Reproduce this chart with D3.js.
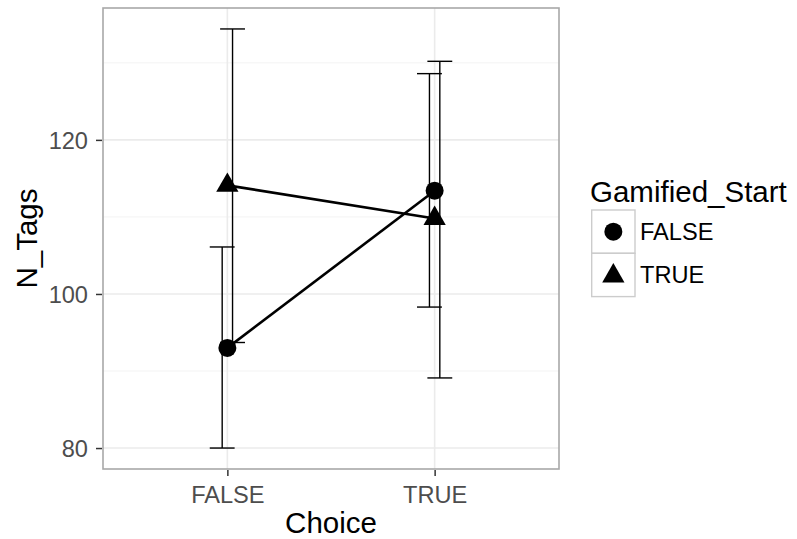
<!DOCTYPE html>
<html>
<head>
<meta charset="utf-8">
<script src="https://d3js.org/d3.v7.min.js"></script>
<style>
    body { margin: 0; background: #fff; }
    text { font-family: "Liberation Sans", Arial, Helvetica, sans-serif; }
</style>
</head>
<body>
<svg id="chart" width="797" height="539"></svg>
<script>
    // chart data
    const choices = ["FALSE", "TRUE"];
    const groups = ["FALSE", "TRUE"];          // Gamified_Start
    const meanFalse = [93.0, 113.4];
    const lowerFalse = [80.0, 98.3];
    const upperFalse = [106.1, 128.6];
    const meanTrue = [114.1, 109.8];
    const lowerTrue = [93.7, 89.1];
    const upperTrue = [134.4, 130.2];
    const yTicks = [80, 100, 120];
    const yMinor = [90, 110, 130];

    const series = [
        { name: groups[0], mean: meanFalse, lo: lowerFalse, hi: upperFalse, shape: "circle", dodge: -1 },
        { name: groups[1], mean: meanTrue, lo: lowerTrue, hi: upperTrue, shape: "triangle", dodge: 1 }
    ];

    const svg = d3.select("#chart");
    const panel = { left: 103, top: 8, right: 559, bottom: 469 };

    const x = d3.scalePoint().domain(choices).range([panel.left, panel.right]).padding(0.6);
    const allVals = lowerFalse.concat(upperFalse, lowerTrue, upperTrue);
    const ext = d3.extent(allVals);
    const pad = (ext[1] - ext[0]) * 0.05;
    const y = d3.scaleLinear().domain([ext[0] - pad, ext[1] + pad]).range([panel.bottom, panel.top]);

    const step = x.step();
    const dodgeOff = 0.025 * step;
    const capHalf = 0.06 * step;

    // grid
    const g = svg.append("g");
    g.selectAll(".minor").data(yMinor).enter().append("line")
        .attr("x1", panel.left).attr("x2", panel.right)
        .attr("y1", d => y(d)).attr("y2", d => y(d))
        .attr("stroke", "#f3f3f3").attr("stroke-width", 1);
    g.selectAll(".major").data(yTicks).enter().append("line")
        .attr("x1", panel.left).attr("x2", panel.right)
        .attr("y1", d => y(d)).attr("y2", d => y(d))
        .attr("stroke", "#ebebeb").attr("stroke-width", 1.6);
    g.selectAll(".majorx").data(choices).enter().append("line")
        .attr("x1", d => x(d)).attr("x2", d => x(d))
        .attr("y1", panel.top).attr("y2", panel.bottom)
        .attr("stroke", "#ebebeb").attr("stroke-width", 1.6);

    // error bars
    series.forEach(s => {
        const eb = svg.append("g");
        choices.forEach((c, i) => {
            const cx = x(c) + s.dodge * dodgeOff;
            eb.append("line").attr("x1", cx).attr("x2", cx)
                .attr("y1", y(s.lo[i])).attr("y2", y(s.hi[i]))
                .attr("stroke", "#000").attr("stroke-width", 1.4);
            [s.lo[i], s.hi[i]].forEach(v => {
                eb.append("line").attr("x1", cx - capHalf).attr("x2", cx + capHalf)
                    .attr("y1", y(v)).attr("y2", y(v))
                    .attr("stroke", "#000").attr("stroke-width", 1.4);
            });
        });
    });

    // lines
    const line = d3.line().x((d, i) => x(choices[i])).y(d => y(d));
    series.forEach(s => {
        svg.append("path").attr("d", line(s.mean))
            .attr("fill", "none").attr("stroke", "#000").attr("stroke-width", 2.6);
    });

    // points
    const symTri = d3.symbol().type(d3.symbolTriangle).size(215);
    function drawShape(sel, shape, cx, cy) {
        if (shape === "circle") {
            sel.append("circle").attr("cx", cx).attr("cy", cy).attr("r", 9).attr("fill", "#000");
        } else {
            sel.append("path").attr("d", symTri()).attr("transform", `translate(${cx},${cy})`).attr("fill", "#000");
        }
    }
    series.forEach(s => {
        const pg = svg.append("g");
        choices.forEach((c, i) => drawShape(pg, s.shape, x(c), y(s.mean[i])));
    });

    // panel border
    svg.append("rect")
        .attr("x", panel.left).attr("y", panel.top)
        .attr("width", panel.right - panel.left).attr("height", panel.bottom - panel.top)
        .attr("fill", "none").attr("stroke", "#a8a8a8").attr("stroke-width", 1.6);

    // y axis
    const yAxis = svg.append("g").attr("transform", `translate(${panel.left - 1},0)`)
        .call(d3.axisLeft(y).tickValues(yTicks).tickSize(6).tickPadding(8));
    yAxis.select(".domain").remove();
    yAxis.selectAll(".tick line").attr("stroke", "#333").attr("stroke-width", 1.5);
    yAxis.selectAll(".tick text").attr("fill", "#4d4d4d").style("font-size", "23.6px")
        .attr("dy", "0.36em");

    // x axis
    const xAxis = svg.append("g").attr("transform", `translate(0,${panel.bottom + 1})`)
        .call(d3.axisBottom(x).tickSize(6).tickPadding(10));
    xAxis.select(".domain").remove();
    xAxis.selectAll(".tick line").attr("stroke", "#333").attr("stroke-width", 1.5);
    xAxis.selectAll(".tick text").attr("fill", "#4d4d4d").style("font-size", "23.6px")
        .attr("dy", "0.71em");

    // axis titles
    svg.append("text").attr("x", (panel.left + panel.right) / 2).attr("y", 533)
        .attr("text-anchor", "middle").style("font-size", "29.5px").attr("fill", "#000").text("Choice");
    svg.append("text").attr("transform", `translate(37,${(panel.top + panel.bottom) / 2}) rotate(-90)`)
        .attr("text-anchor", "middle").style("font-size", "29.5px").attr("fill", "#000").text("N_Tags");

    // legend
    const lg = svg.append("g");
    lg.append("text").attr("x", 590).attr("y", 201.5).style("font-size", "29.5px")
        .attr("fill", "#000").text("Gamified_Start");
    const keySize = 43.3;
    series.forEach((s, i) => {
        const ky = 210 + i * keySize;
        lg.append("rect").attr("x", 591.7).attr("y", ky).attr("width", keySize).attr("height", keySize)
            .attr("fill", "#fff").attr("stroke", "#cccccc").attr("stroke-width", 1.4);
        drawShape(lg, s.shape, 591.7 + keySize / 2, ky + keySize / 2 + (s.shape === "triangle" ? 1 : 0));
        lg.append("text").attr("x", 640).attr("y", ky + keySize / 2).attr("dy", "0.36em")
            .style("font-size", "23.6px").attr("fill", "#000").text(s.name);
    });
</script>
</body>
</html>
